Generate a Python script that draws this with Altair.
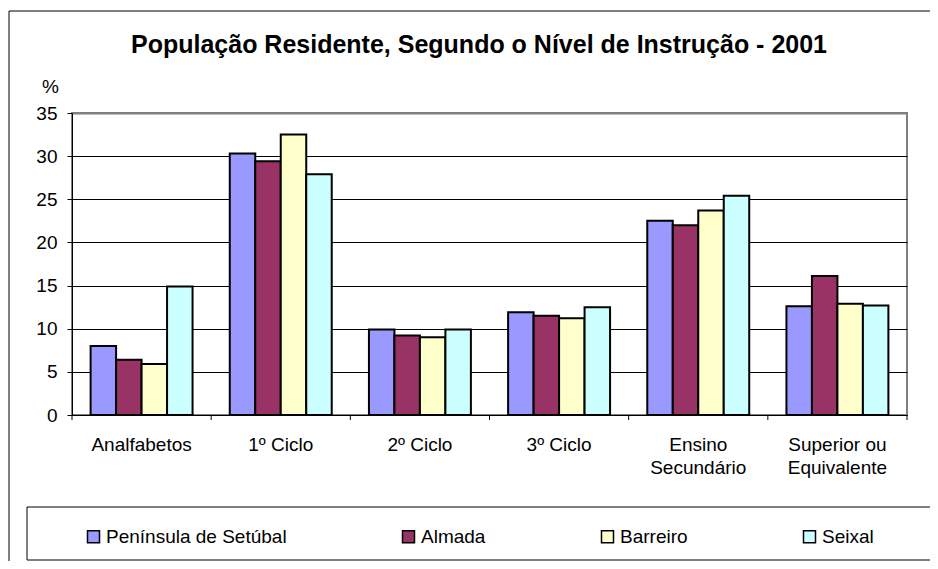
import altair as alt
import pandas as pd

FONT = "Liberation Sans"

title_text = "População Residente, Segundo o Nível de Instrução - 2001"
categories = ["Analfabetos", "1º Ciclo", "2º Ciclo", "3º Ciclo",
              "Ensino\nSecundário", "Superior ou\nEquivalente"]
series = ["Península de Setúbal", "Almada", "Barreiro", "Seixal"]
peninsula = [8.0, 30.3, 9.9, 11.9, 22.5, 12.6]
almada = [6.4, 29.4, 9.2, 11.5, 22.0, 16.1]
barreiro = [5.9, 32.5, 9.0, 11.2, 23.7, 12.9]
seixal = [14.9, 27.9, 9.9, 12.5, 25.4, 12.7]
colors = ["#9999FF", "#993366", "#FFFFCC", "#CCFFFF"]
y_ticks = [0, 5, 10, 15, 20, 25, 30, 35]

values_by_series = [peninsula, almada, barreiro, seixal]
rows = []
for s, vals in zip(series, values_by_series):
    for c, v in zip(categories, vals):
        rows.append({"Nivel": c, "Serie": s, "Valor": v})
df = pd.DataFrame(rows)
cat_df = pd.DataFrame({"Nivel": categories})

W, H = 835, 302

x_enc = alt.X(
    "Nivel:N", sort=categories,
    scale=alt.Scale(paddingInner=0, paddingOuter=0),
    axis=alt.Axis(title=None, labelAngle=0, ticks=False, tickSize=0,
                  labelPadding=20, labelFontSize=19, labelBaseline="top",
                  labelExpr="split(datum.label, '\\n')", labelLineHeight=23,
                  domainColor="black", domainWidth=1, grid=False),
)

bars = alt.Chart(df).mark_bar(stroke="black", strokeWidth=2).encode(
    x=x_enc,
    xOffset=alt.XOffset("Serie:N", sort=series,
                        scale=alt.Scale(paddingInner=0, paddingOuter=0.73)),
    y=alt.Y("Valor:Q", scale=alt.Scale(domain=[0, 35], nice=False),
            axis=alt.Axis(values=y_ticks, title="%", titleAngle=0, titleX=-22, titleY=-27,
                          titleAlign="center", titleBaseline="middle", titleFontSize=19,
                          titleFontWeight="normal", labelFontSize=19, tickSize=5,
                          labelPadding=10, tickColor="black", domainColor="black",
                          gridColor={"condition": {"test": "datum.value >= 35", "value": "#808080"},
                                     "value": "#000000"},
                          gridWidth={"condition": {"test": "datum.value >= 35", "value": 2},
                                     "value": 1})),
    color=alt.Color("Serie:N", sort=series,
                    scale=alt.Scale(domain=series, range=colors),
                    legend=alt.Legend(orient="none", legendX=12, legendY=414,
                                      direction="horizontal", columns=4,
                                      symbolType="square", symbolSize=144,
                                      symbolStrokeColor="black", symbolStrokeWidth=1.5,
                                      labelFontSize=19, labelOffset=3, columnPadding=112,
                                      padding=0, title=None, labelLimit=300)),
)

ticks = alt.Chart(cat_df).mark_rule(color="black", strokeWidth=1).encode(
    x=alt.X("Nivel:N", sort=categories, bandPosition=0),
    y=alt.value(H), y2=alt.value(H + 5),
)
end_tick = alt.Chart(alt.Data(values=[{}])).mark_rule(color="black", strokeWidth=1).encode(
    x=alt.value(W), y=alt.value(H), y2=alt.value(H + 5),
)

outer = alt.Chart(alt.Data(values=[{}])).mark_rect(fillOpacity=0, stroke="black", strokeWidth=1).encode(
    x=alt.value(-63), x2=alt.value(W + 200), y=alt.value(-102), y2=alt.value(H + 300),
)
legend_box = alt.Chart(alt.Data(values=[{}])).mark_rect(fill="white", stroke="black", strokeWidth=1).encode(
    x=alt.value(-45), x2=alt.value(860), y=alt.value(394), y2=alt.value(447),
)
title = alt.Chart(alt.Data(values=[{"t": title_text}])).mark_text(
    font=FONT, fontSize=25, fontWeight="bold", color="black",
    align="center", baseline="alphabetic",
).encode(text="t:N", x=alt.value(407), y=alt.value(-60))

chart = alt.layer(outer, legend_box, title, bars, ticks, end_tick).properties(
    width=W, height=H,
    autosize=alt.AutoSizeParams(type="none"),
    padding={"left": 64, "top": 105, "right": 23, "bottom": 146},
    background="white",
).configure_view(stroke="#808080", strokeWidth=2).configure_axis(
    labelFont=FONT, titleFont=FONT, labelColor="black", titleColor="black",
).configure_legend(labelFont=FONT, labelColor="black")

chart.save("out.html", embed_options={"renderer": "svg", "actions": False})
